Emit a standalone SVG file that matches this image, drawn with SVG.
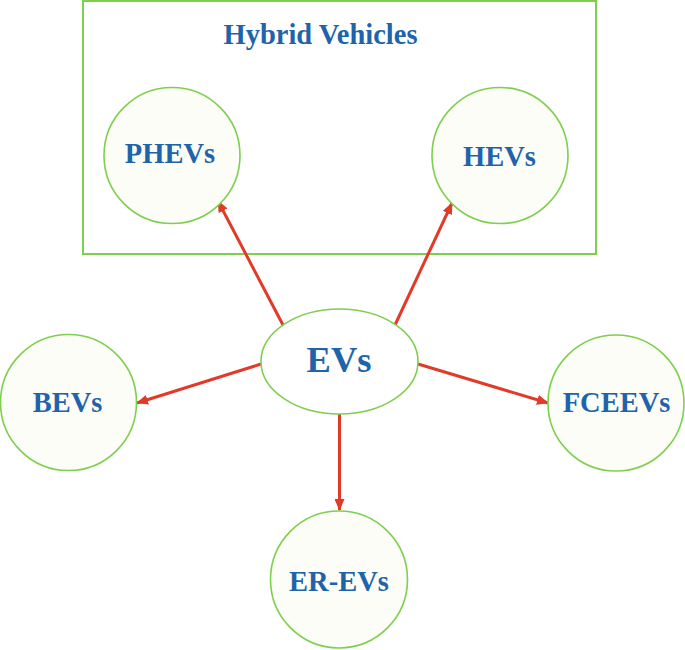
<svg xmlns="http://www.w3.org/2000/svg" width="685" height="650" viewBox="0 0 685 650">
<style>
.node{fill:#fcfdf6;stroke:#7fcf4e;stroke-width:1.6}
.lbl{font-family:"Liberation Serif","Times New Roman",serif;font-weight:bold;fill:#1f64aa;text-anchor:middle}
.con{stroke:#e23a28;stroke-width:3;fill:none;marker-end:url(#ah)}
</style>
<defs>
<marker id="ah" markerUnits="userSpaceOnUse" markerWidth="12" markerHeight="10" refX="11" refY="5" orient="auto">
<path d="M0,0 L12,5 L0,10 Z" fill="#e23a28"/>
</marker>
</defs>
<rect width="685" height="650" fill="#ffffff"/>
<g id="hybrid-group">
<rect x="83" y="1" width="513" height="253" fill="none" stroke="#7fcf4e" stroke-width="2"/>
<text class="lbl" x="320.5" y="44" font-size="28.5">Hybrid Vehicles</text>
</g>
<g id="connectors">
<line class="con" x1="283" y1="325" x2="218" y2="201"/>
<line class="con" x1="395" y1="325" x2="452" y2="203"/>
<line class="con" x1="261" y1="364" x2="137" y2="403"/>
<line class="con" x1="418" y1="364" x2="548" y2="403"/>
<line class="con" x1="339.5" y1="414" x2="339.5" y2="510"/>
</g>
<g id="PHEVs">
<circle class="node" cx="172" cy="155.5" r="68"/>
<text class="lbl" x="170" y="163" font-size="28.5">PHEVs</text>
</g>
<g id="HEVs">
<circle class="node" cx="500" cy="155.5" r="68"/>
<text class="lbl" x="499.5" y="166" font-size="28.5">HEVs</text>
</g>
<g id="EVs">
<ellipse cx="339.5" cy="361.5" rx="78.5" ry="52.5" fill="#ffffff" stroke="#7fcf4e" stroke-width="1.6"/>
<text class="lbl" x="339" y="372" font-size="36.5">EVs</text>
</g>
<g id="BEVs">
<circle class="node" cx="68.5" cy="402.5" r="68"/>
<text class="lbl" x="67.5" y="412" font-size="28.5">BEVs</text>
</g>
<g id="FCEEVs">
<circle class="node" cx="616" cy="403" r="68"/>
<text class="lbl" x="616.5" y="412" font-size="28.5">FCEEVs</text>
</g>
<g id="ER-EVs">
<circle class="node" cx="339" cy="579.5" r="68.5"/>
<text class="lbl" x="339" y="591" font-size="28.5">ER-EVs</text>
</g>
</svg>
